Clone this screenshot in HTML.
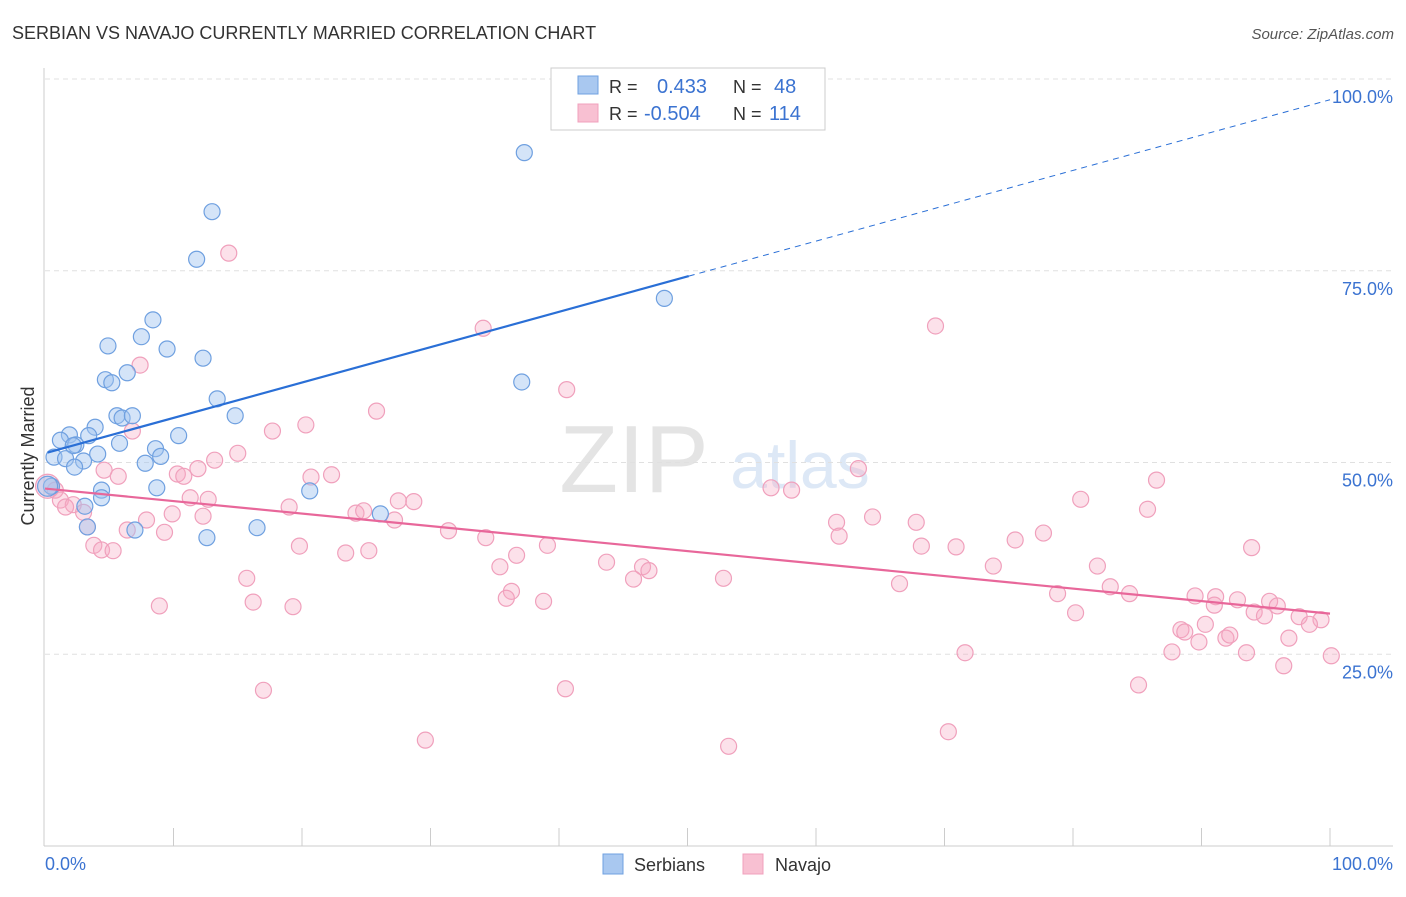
<!DOCTYPE html>
<html><head><meta charset="utf-8"><style>
body{margin:0;background:#fff;font-family:"Liberation Sans",sans-serif;}
svg text{font-family:"Liberation Sans",sans-serif;}
</style></head><body>
<svg id="chart" width="1406" height="892" viewBox="0 0 1406 892">
<text x="12" y="39" font-size="18" fill="#333">SERBIAN VS NAVAJO CURRENTLY MARRIED CORRELATION CHART</text>
<text x="1394" y="39" font-size="15" fill="#555" font-style="italic" text-anchor="end">Source: ZipAtlas.com</text>
<text x="634" y="492" font-size="96" fill="#e4e4e4" font-family="Liberation Serif,serif" text-anchor="middle">ZIP</text>
<text x="800" y="488" font-size="66" fill="#dde8f6" text-anchor="middle">atlas</text>
<g id="grid"></g>
<line x1="44" y1="68" x2="44" y2="846" stroke="#ccc"/>
<line x1="44" y1="846" x2="1393" y2="846" stroke="#ccc"/>
<g id="ticks"></g>
<text transform="translate(34,456) rotate(-90)" font-size="18" fill="#333" text-anchor="middle">Currently Married</text>
<text x="45" y="870" font-size="18" fill="#3b73d1">0.0%</text>
<text x="1393" y="870" font-size="18" fill="#3b73d1" text-anchor="end">100.0%</text>
<g id="pts"></g>
<g id="lines"></g>
<g>
<rect x="551" y="68" width="274" height="62" fill="#fff" stroke="#ccc"/>
<rect x="578" y="76" width="20" height="18" fill="#a9c8f0" stroke="#6fa0e0"/>
<rect x="578" y="104" width="20" height="18" fill="#f8c0d2" stroke="#f0a0bc"/>
<text x="609" y="93" font-size="18" fill="#333">R = </text><text x="657" y="93" font-size="20" fill="#3b73d1">0.433</text>
<text x="733" y="93" font-size="18" fill="#333">N = </text><text x="774" y="93" font-size="20" fill="#3b73d1">48</text>
<text x="609" y="120" font-size="18" fill="#333">R = </text><text x="644" y="120" font-size="20" fill="#3b73d1">-0.504</text>
<text x="733" y="120" font-size="18" fill="#333">N = </text><text x="769" y="120" font-size="20" fill="#3b73d1">114</text>
</g>
<g>
<rect x="603" y="854" width="20" height="20" fill="#a9c8f0" stroke="#6fa0e0"/>
<text x="634" y="871" font-size="18" fill="#333">Serbians</text>
<rect x="743" y="854" width="20" height="20" fill="#f8c0d2" stroke="#f0a0bc"/>
<text x="775" y="871" font-size="18" fill="#333">Navajo</text>
</g>
</svg>
<script>
const yTicks=[25,50,75,100];
const yTickLabels=["25.0%","50.0%","75.0%","100.0%"];
const xTicks=[10,20,30,40,50,60,70,80,90,100];
const serbX=[37.3,13.0,11.8,48.2,8.4,4.9,7.5,9.5,12.3,4.7,5.2,6.4,37.1,13.4,5.6,6.0,6.8,14.8,3.9,3.4,1.9,1.2,2.4,2.2,10.4,5.8,8.6,9.0,0.7,1.6,4.1,3.0,7.8,2.3,0.5,4.4,8.7,20.6,0.2,4.4,3.1,26.1,3.3,7.0,16.5,12.6];
const serbY=[90.4,82.7,76.5,71.4,68.6,65.2,66.4,64.8,63.6,60.8,60.4,61.7,60.5,58.3,56.1,55.8,56.1,56.1,54.6,53.5,53.6,52.9,52.3,52.2,53.5,52.5,51.8,50.8,50.7,50.5,51.1,50.2,49.9,49.4,46.9,46.4,46.7,46.3,46.9,45.4,44.3,43.3,41.6,41.2,41.5,40.2];
const navX=[14.3,34.1,69.3,7.4,40.6,25.8,20.3,17.7,6.8,15.0,13.2,4.6,5.7,10.3,10.8,11.9,20.7,22.3,63.3,56.5,58.1,86.5,0.8,0.2,1.2,2.2,11.3,12.7,1.6,3.0,7.9,9.9,12.3,19.0,24.2,24.8,27.2,27.5,28.7,80.6,85.8,64.4,61.6,67.8,3.3,6.4,9.3,31.4,34.3,61.8,3.8,4.4,5.3,19.8,23.4,25.2,39.1,36.7,68.2,70.9,75.5,77.7,93.9,35.4,43.7,46.5,47.0,45.8,52.8,15.7,73.8,81.9,36.3,35.9,38.8,66.5,82.9,84.4,78.8,8.9,16.2,19.3,89.5,91.1,91.0,92.8,95.3,95.9,94.1,80.2,94.9,97.6,99.3,98.4,90.3,88.4,88.7,91.9,89.8,92.2,96.8,87.7,93.5,71.6,100.1,96.4,17.0,40.5,85.1,70.3,29.6,53.2];
const navY=[77.3,67.5,67.8,62.7,59.5,56.7,54.9,54.1,54.1,51.2,50.3,49.0,48.2,48.5,48.2,49.2,48.1,48.4,49.2,46.7,46.4,47.7,46.4,46.9,45.1,44.5,45.4,45.2,44.2,43.5,42.5,43.3,43.0,44.2,43.4,43.7,42.5,45.0,44.9,45.2,43.9,42.9,42.2,42.2,41.6,41.2,40.9,41.1,40.2,40.4,39.2,38.6,38.5,39.1,38.2,38.5,39.2,37.9,39.1,39.0,39.9,40.8,38.9,36.4,37.0,36.4,35.9,34.8,34.9,34.9,36.5,36.5,33.2,32.3,31.9,34.2,33.8,32.9,32.9,31.3,31.8,31.2,32.6,32.5,31.4,32.1,31.9,31.3,30.5,30.4,30.0,29.9,29.5,28.9,28.9,28.2,27.9,27.1,26.6,27.5,27.1,25.3,25.2,25.2,24.8,23.5,20.3,20.5,21.0,14.9,13.8,13.0];
const serbTrend=[51.3,97.3]; // y at x=0.2, x=100
const navTrend=[46.6,30.3];
const sx=v=>45+v*12.85, sy=v=>846-v*7.67;
const NS="http://www.w3.org/2000/svg";
function mk(tag,attrs,parent){const e=document.createElementNS(NS,tag);for(const k in attrs)e.setAttribute(k,attrs[k]);document.getElementById(parent).appendChild(e);return e;}
yTicks.forEach((t,i)=>{
 const l=mk('line',{x1:45,x2:1393,y1:sy(t),y2:sy(t),stroke:'#e0e0e0','stroke-dasharray':'5,4'},'grid');
 
 
 const tx=mk('text',{x:1393,y:sy(t)+24,'font-size':18,fill:'#3b73d1','text-anchor':'end'},'grid');
 tx.textContent=yTickLabels[i];
 
 
});
xTicks.forEach(t=>{
 const l=mk('line',{x1:sx(t),x2:sx(t),y1:828,y2:846,stroke:'#ccc'},'ticks');
 
 
});
navX.forEach((x,i)=>{
 const c=mk('circle',{cx:sx(x),cy:sy(navY[i]),r:(x<0.5?12:8),fill:'rgba(246,170,196,0.35)',stroke:'#f0a0bc','stroke-width':1.2},'pts');
 
 
});
serbX.forEach((x,i)=>{
 const c=mk('circle',{cx:sx(x),cy:sy(serbY[i]),r:(x<0.5?10:8),fill:'rgba(160,196,240,0.45)',stroke:'#6fa0e0','stroke-width':1.2},'pts');
 
 
});
const sY=x=>serbTrend[0]+(serbTrend[1]-serbTrend[0])*(x-0.2)/99.8;
let a=mk('line',{x1:sx(0.2),y1:sy(sY(0.2)),x2:sx(50.1),y2:sy(sY(50.1)),stroke:'#2a6fd6','stroke-width':2.2},'lines');


let b=mk('line',{x1:sx(50.1),y1:sy(sY(50.1)),x2:sx(100),y2:sy(sY(100)),stroke:'#2a6fd6','stroke-width':1,'stroke-dasharray':'6,5'},'lines');


let c=mk('line',{x1:sx(0),y1:sy(navTrend[0]),x2:sx(100),y2:sy(navTrend[1]),stroke:'#e8679a','stroke-width':2.2},'lines');


</script>
</body></html>
